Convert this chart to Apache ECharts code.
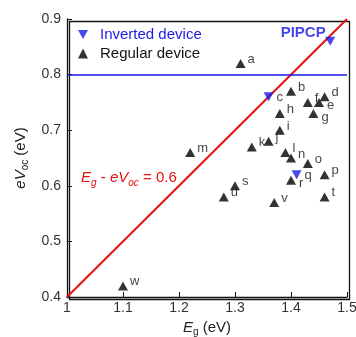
<!DOCTYPE html>
<html lang="en">
<head>
  <meta charset="UTF-8">
  <title>Eg vs eVoc</title>
  <script src="https://cdn.jsdelivr.net/npm/echarts@6/dist/echarts.min.js"></script>
  <style>
    html, body { margin: 0; padding: 0; background: #fff; }
    #main { width: 356px; height: 337px; }
  </style>
</head>
<body>
  <div id="main"></div>
<script>
  // regular devices
  let regularNames = ['a', 'b', 'd', 'e', 'f', 'g', 'h', 'i', 'j', 'k', 'l', 'm', 'n', 'o', 'p', 'r', 's', 't', 'u', 'v', 'w']
  let regularEg = [1.31, 1.40, 1.46, 1.45, 1.43, 1.44, 1.38, 1.38, 1.36, 1.33, 1.39, 1.22, 1.40, 1.43, 1.46, 1.40, 1.30, 1.46, 1.28, 1.37, 1.10]
  let regularVoc = [0.82, 0.77, 0.76, 0.75, 0.75, 0.73, 0.73, 0.70, 0.68, 0.67, 0.66, 0.66, 0.65, 0.64, 0.62, 0.61, 0.60, 0.58, 0.58, 0.57, 0.42]
  // inverted devices
  let invertedNames = ['PIPCP', 'c', 'q']
  let invertedEg = [1.47, 1.36, 1.41]
  let invertedVoc = [0.86, 0.76, 0.62]
  // Eg - eVoc = 0.6 line and 0.8 level
  let lossLine = [[1.0, 0.4], [1.5, 0.9]]
  let vocLevel = 0.8
  let xTicks = [1, 1.5, 0.1]
  let yTicks = [0.4, 0.9, 0.1]

  let downTri = 'path://M0,0 L10,0 L5,9 Z'
  let font = 'Liberation Sans, Arial, sans-serif'
  // labels that sit lower right instead of upper right
  let lowLabels = { e: [-2, 3], g: [-2, 4], r: [-2, 3] }

  initChart()

  function axisRich(size) {
    return {
      i: { fontStyle: 'italic', fontSize: size, color: '#222', fontFamily: font },
      s: { fontSize: 10, color: '#222', verticalAlign: 'bottom', padding: [9, 0, 0, 0], fontFamily: font },
      n: { fontSize: size, color: '#222', fontFamily: font }
    }
  }

  function initChart() {
    let myChart = echarts.init(document.getElementById('main'))
    let regular = regularNames.map((n, i) => {
      let item = { value: [regularEg[i], regularVoc[i], n] }
      if (lowLabels[n]) item.label = { offset: lowLabels[n] }
      return item
    })
    let inverted = invertedNames.map((n, i) => {
      let item = { value: [invertedEg[i], invertedVoc[i], n] }
      if (n === 'PIPCP') {
        item.label = {
          position: 'inside', offset: [-27, -8], color: '#1515e6',
          fontWeight: 'bold', fontSize: 15
        }
      }
      return item
    })
    let option = {
      animation: false,
      textStyle: { fontFamily: font },
      grid: { left: 67, right: 9, top: 19, bottom: 40, outerBoundsMode: 'none', containLabel: false },
      legend: {
        left: 73, top: 22, orient: 'vertical', itemGap: 4,
        itemWidth: 10, itemHeight: 10,
        textStyle: { fontSize: 15, fontFamily: font, padding: [0, 0, 0, 7] },
        data: [
          { name: 'Inverted device', icon: downTri, textStyle: { color: '#1a1ae6' } },
          { name: 'Regular device', icon: 'triangle', textStyle: { color: '#111' } }
        ]
      },
      xAxis: {
        type: 'value', min: xTicks[0], max: xTicks[1], interval: xTicks[2],
        name: '{i|E}{s|g}{n| (eV)}', nameLocation: 'middle', nameGap: 19,
        nameTextStyle: { rich: axisRich(15) },
        axisLine: { lineStyle: { color: '#111', width: 1.3 } },
        axisTick: { inside: true, length: 5, lineStyle: { color: '#111' } },
        axisLabel: { color: '#333', fontSize: 14, margin: 4 },
        splitLine: { show: false }
      },
      yAxis: {
        type: 'value', min: yTicks[0], max: yTicks[1], interval: yTicks[2],
        name: '{i|eV}{s|oc}{n| (eV)}', nameLocation: 'middle', nameGap: 27, nameRotate: 90,
        nameTextStyle: { rich: axisRich(15) },
        axisLine: { lineStyle: { color: '#111', width: 1.3 } },
        axisTick: { inside: true, length: 5, lineStyle: { color: '#111' } },
        axisLabel: { color: '#333', fontSize: 14, margin: 6, formatter: v => v.toFixed(1) },
        splitLine: { show: false }
      },
      graphic: [
        {
          type: 'rect', left: 67, top: 19, silent: true,
          shape: { width: 280, height: 278 },
          style: { fill: 'none', stroke: '#111', lineWidth: 1.3 }
        },
        {
          type: 'text', left: 81, top: 170, silent: true,
          style: {
            text: '{i|E}{s|g}{n| - }{i|eV}{s|oc}{n| = 0.6}',
            rich: {
              i: { fontStyle: 'italic', fontSize: 15, fill: '#e51010', fontFamily: font },
              s: { fontStyle: 'italic', fontSize: 10, fill: '#e51010', padding: [11, 0, 0, 0], fontFamily: font },
              n: { fontSize: 15, fill: '#e51010', fontFamily: font }
            }
          }
        }
      ],
      series: [
        {
          name: 'line', type: 'line', data: lossLine, symbol: 'none',
          lineStyle: { color: '#e51010', width: 2 }, z: 1,
          markLine: {
            silent: true, symbol: 'none', label: { show: false },
            lineStyle: { color: '#1a1ae6', width: 1.5, type: 'solid' },
            data: [{ yAxis: vocLevel }]
          }
        },
        {
          name: 'Regular device', type: 'scatter', data: regular,
          symbol: 'triangle', symbolSize: [10, 9],
          itemStyle: { color: '#000' }, z: 3,
          label: {
            show: true, position: 'right', offset: [-3, -4],
            formatter: p => p.value[2], color: '#111', fontSize: 13
          }
        },
        {
          name: 'Inverted device', type: 'scatter', data: inverted,
          symbol: downTri, symbolSize: [10, 9],
          itemStyle: { color: '#1a1ae6' }, z: 3,
          label: {
            show: true, position: 'right', offset: [-2, 1],
            formatter: p => p.value[2], color: '#111', fontSize: 13
          }
        }
      ]
    }
    myChart.setOption(option)
  }
</script>
</body>
</html>
